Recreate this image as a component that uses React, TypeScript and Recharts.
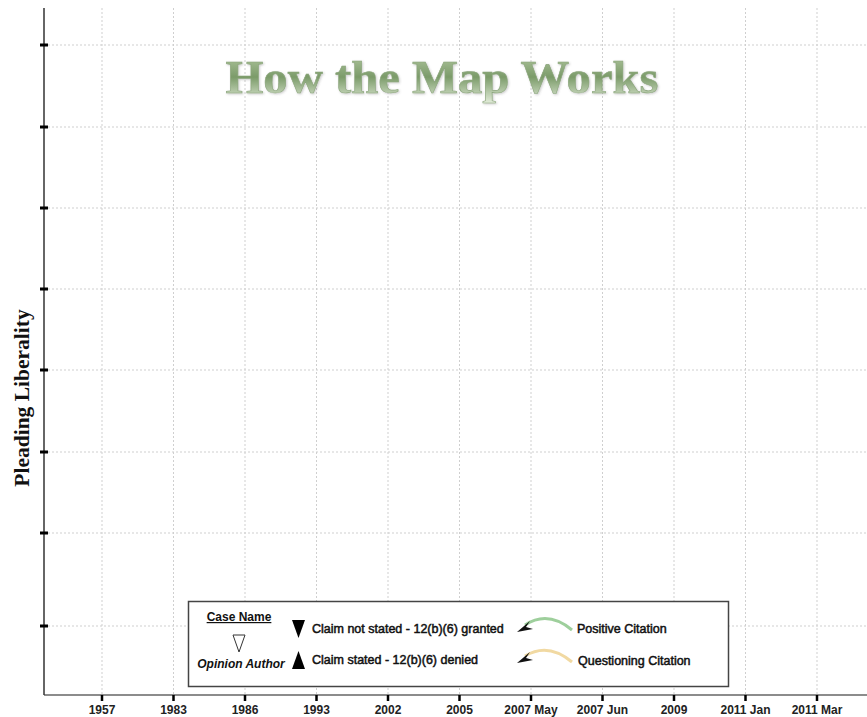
import { ComposedChart, Line, XAxis, YAxis, CartesianGrid } from 'recharts'

// decision years on the timeline
const years = ['1957', '1983', '1986', '1993', '2002', '2005', '2007 May', '2007 Jun', '2009', '2011 Jan', '2011 Mar']
// no cases plotted on the "how it works" page
const liberality: (number | null)[] = [null, null, null, null, null, null, null, null, null, null, null]
// unlabeled liberality ticks
const yTicks = [69, 162, 243, 325, 406, 487, 568, 650]

const data = years.map((year, i) => ({ year, liberality: liberality[i] }))

const W = 867
const H = 717
const SANS = '"Liberation Sans", Arial, Helvetica, sans-serif'
const SERIF = '"Liberation Serif", "Times New Roman", serif'

const YTick = ({ x, y }: any) => <rect x={x - 4} y={y - 1.5} width={8} height={3} fill="#000" />

function Overlay() {
  const txt = { fontFamily: SANS, fontSize: 12.5, fill: '#111', stroke: '#111', strokeWidth: 0.5 }
  return (
    <svg width={W} height={H} style={{ position: 'absolute', left: 0, top: 0, pointerEvents: 'none' }}>
      <defs>
        <linearGradient id="titleFill" x1="0" y1="0" x2="0" y2="1">
          <stop offset="0%" stopColor="#b7cba6" />
          <stop offset="50%" stopColor="#7b9b69" />
          <stop offset="100%" stopColor="#e2ecd9" />
        </linearGradient>
        <filter id="titleShadow" x="-5%" y="-20%" width="110%" height="140%">
          <feDropShadow dx="1" dy="1" stdDeviation="1" floodColor="#555" floodOpacity="0.3" />
        </filter>
      </defs>
      <text
        x={442}
        y={93}
        textAnchor="middle"
        textLength={433}
        lengthAdjust="spacingAndGlyphs"
        fontFamily={SERIF}
        fontWeight="bold"
        fontSize={47}
        fill="url(#titleFill)"
        stroke="#8ba57c"
        strokeWidth={0.6}
        filter="url(#titleShadow)"
      >
        How the Map Works
      </text>

      <text
        x={29}
        y={398}
        transform="rotate(-90 29 398)"
        textAnchor="middle"
        fontFamily={SERIF}
        fontWeight="bold"
        fontSize={21.5}
        fill="#111"
      >
        Pleading Liberality
      </text>

      <rect x={188.5} y={601.5} width={540} height={85} fill="#fff" stroke="#444" strokeWidth={1.5} />
      <text x={239} y={621} textAnchor="middle" {...txt} fontSize={12} textDecoration="underline" fontWeight="bold" strokeWidth={0}>
        Case Name
      </text>
      <polygon points="233,635 245,635 239,652" fill="#fff" stroke="#333" strokeWidth={1} />
      <text x={241} y={668} textAnchor="middle" {...txt} fontSize={12} fontStyle="italic" fontWeight="bold" strokeWidth={0}>
        Opinion Author
      </text>

      <polygon points="292,620 305,620 298.5,638" fill="#000" />
      <text x={312} y={633} {...txt}>Claim not stated - 12(b)(6) granted</text>
      <polygon points="292,669 305,669 298.5,651" fill="#000" />
      <text x={312} y={664} {...txt}>Claim stated - 12(b)(6) denied</text>

      <path d="M572,630 Q548,610 525,625" fill="none" stroke="#9ecf9c" strokeWidth={3} />
      <polygon points="517,632 530,621 526,627 533,629" fill="#111" />
      <text x={577} y={633} {...txt}>Positive Citation</text>
      <path d="M572,662 Q548,642 525,656" fill="none" stroke="#f1d9a2" strokeWidth={3} />
      <polygon points="517,663 530,652 526,658 533,660" fill="#111" />
      <text x={578} y={665} {...txt}>Questioning Citation</text>
    </svg>
  )
}

export default function App() {
  return (
    <div style={{ position: 'absolute', left: 0, top: 0, width: W, height: H, background: '#fff' }}>
      <ComposedChart width={W} height={H} data={data} margin={{ top: 8, right: 0, bottom: 0, left: 43 }}>
        <CartesianGrid strokeDasharray="2 2" stroke="#cfcfcf" horizontalPoints={[]} verticalPoints={[]} syncWithTicks />
        <XAxis
          dataKey="year"
          scale="point"
          padding={{ left: 58, right: 50 }}
          height={22}
          axisLine={{ stroke: '#666', strokeWidth: 1.5 }}
          tickLine={{ stroke: '#000', strokeWidth: 2.5 }}
          tickSize={6}
          tickMargin={4}
          interval={0}
          tick={{ fill: '#222', fontSize: 12, fontWeight: 'bold', fontFamily: SANS }}
        />
        <YAxis
          type="number"
          domain={[0, 687]}
          ticks={yTicks}
          width={1}
          axisLine={{ stroke: '#333', strokeWidth: 1.5 }}
          tickLine={false}
          tickSize={0}
          tickMargin={0}
          tick={<YTick />}
          allowDataOverflow
        />
        <Line dataKey="liberality" stroke="#000" dot={false} isAnimationActive={false} />
      </ComposedChart>
      <Overlay />
    </div>
  )
}
